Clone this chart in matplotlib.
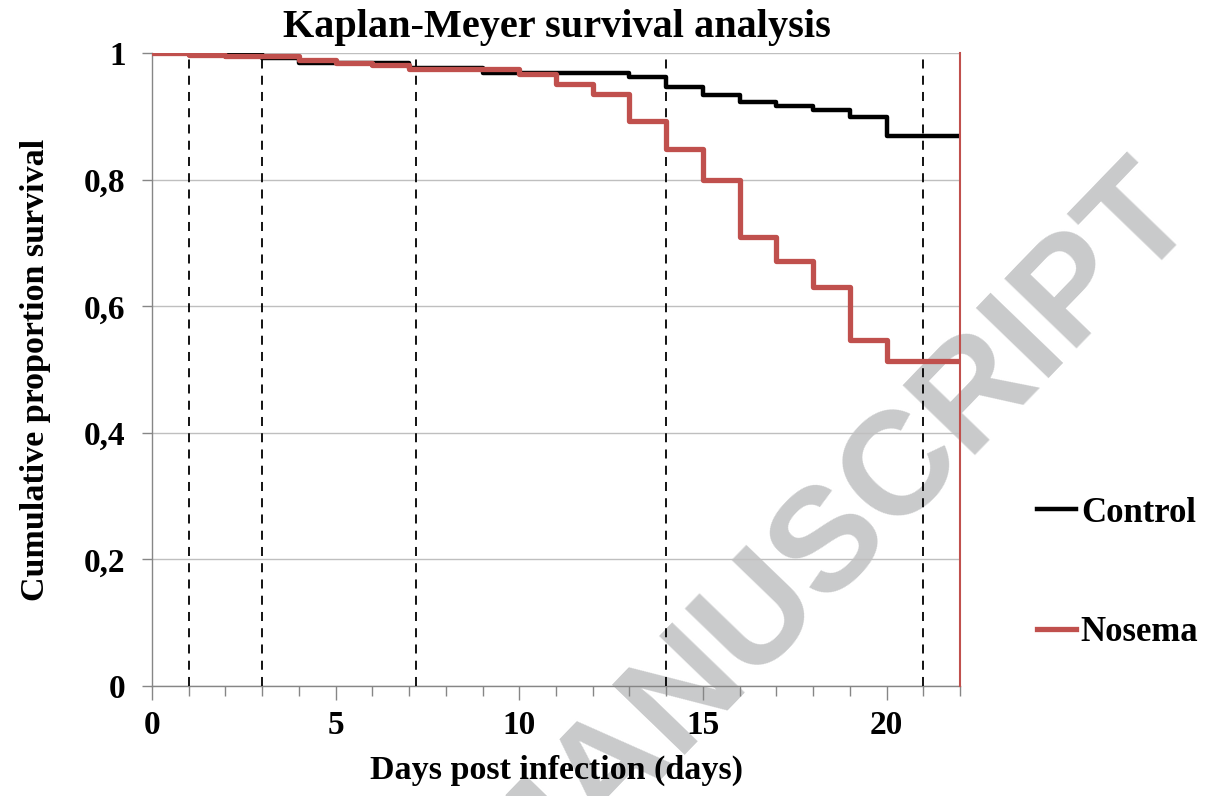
import matplotlib
matplotlib.use("Agg")
import matplotlib.pyplot as plt
from matplotlib.ticker import MultipleLocator

plt.rcParams['font.family'] = ['Liberation Serif', 'DejaVu Serif']
plt.rcParams['font.weight'] = 'bold'

# ---- data ----
days = [0, 1, 2, 3, 4, 5, 6, 7, 8, 9, 10, 11, 12, 13, 14, 15, 16, 17, 18, 19, 20, 22]
control = [1.0, 1.0, 1.0, 0.993, 0.985, 0.985, 0.985, 0.976, 0.976, 0.969, 0.969,
           0.969, 0.969, 0.962, 0.947, 0.934, 0.923, 0.916, 0.910, 0.900, 0.870, 0.870]
nosema = [1.0, 0.997, 0.995, 0.995, 0.989, 0.985, 0.981, 0.975, 0.975, 0.975, 0.968,
          0.952, 0.936, 0.893, 0.848, 0.799, 0.710, 0.672, 0.630, 0.547, 0.514, 0.514]
dashed_days = [1, 3, 7.2, 14, 21]
x_ticks = [0, 5, 10, 15, 20]
y_ticks = [0, 0.2, 0.4, 0.6, 0.8, 1.0]
y_ticklabels = ['0', '0,2', '0,4', '0,6', '0,8', '1']

RED = '#C0504D'
GRID = '#BFBFBF'

fig = plt.figure(figsize=(12.09, 7.96), dpi=100)
ax = fig.add_axes([152/1209, 1-686/796, (960-152)/1209, (686-53.3)/796])
ax.set_facecolor('none')

ax.step(days, control, where='post', color='black', lw=3.2, label='Control', zorder=4)
ax.step(days, nosema, where='post', color=RED, lw=3.8, label='Nosema', zorder=5)

for d in dashed_days:
    ax.axvline(d, color='black', lw=1.3, ls=(0, (5, 4)), zorder=3)
ax.axvline(22, color=RED, lw=1.5, zorder=6, clip_on=False)

ax.set_xlim(0, 22)
ax.set_ylim(0, 1)
ax.set_xticks(x_ticks)
ax.xaxis.set_minor_locator(MultipleLocator(1))
ax.set_yticks(y_ticks)
ax.set_yticklabels(y_ticklabels)
ax.yaxis.grid(True, color=GRID, lw=1.0, zorder=1)
ax.set_axisbelow(True)

for s in ['top', 'right']:
    ax.spines[s].set_visible(False)
for s in ['left', 'bottom']:
    ax.spines[s].set_color('#868686')
    ax.spines[s].set_linewidth(1.0)

ax.tick_params(axis='x', which='major', direction='out', length=10, width=1,
               color='#868686', labelsize=24, pad=7)
ax.tick_params(axis='x', which='minor', direction='out', length=7, width=1, color='#868686')
ax.tick_params(axis='y', which='major', direction='out', length=7, width=1,
               color='#868686', labelsize=24, pad=12)
for lab in ax.get_xticklabels() + ax.get_yticklabels():
    lab.set_fontweight('bold')

ax.set_xlabel('Days post infection (days)', fontsize=24.5, fontweight='bold', labelpad=10)
ax.set_ylabel('Cumulative proportion survival', fontsize=24.5, fontweight='bold', labelpad=24)
fig.text(557/1209, 1-28/796, 'Kaplan-Meyer survival analysis', fontsize=29,
         fontweight='bold', ha='center', va='center')

leg = fig.legend(loc='center left', bbox_to_anchor=(1020/1209, 1-573/796), frameon=False,
                 fontsize=25, handlelength=1.1, handletextpad=0.15, labelspacing=2.5,
                 borderpad=0)
for t in leg.get_texts():
    t.set_fontweight('bold')

# watermark
fig.text(830/1209, 1-540/796, 'MANUSCRIPT', fontsize=106, fontweight='bold',
         family='Liberation Sans', color='#C9CACB', rotation=46, ha='center', va='center',
         zorder=-1)

fig.savefig('out.png', dpi=100)
